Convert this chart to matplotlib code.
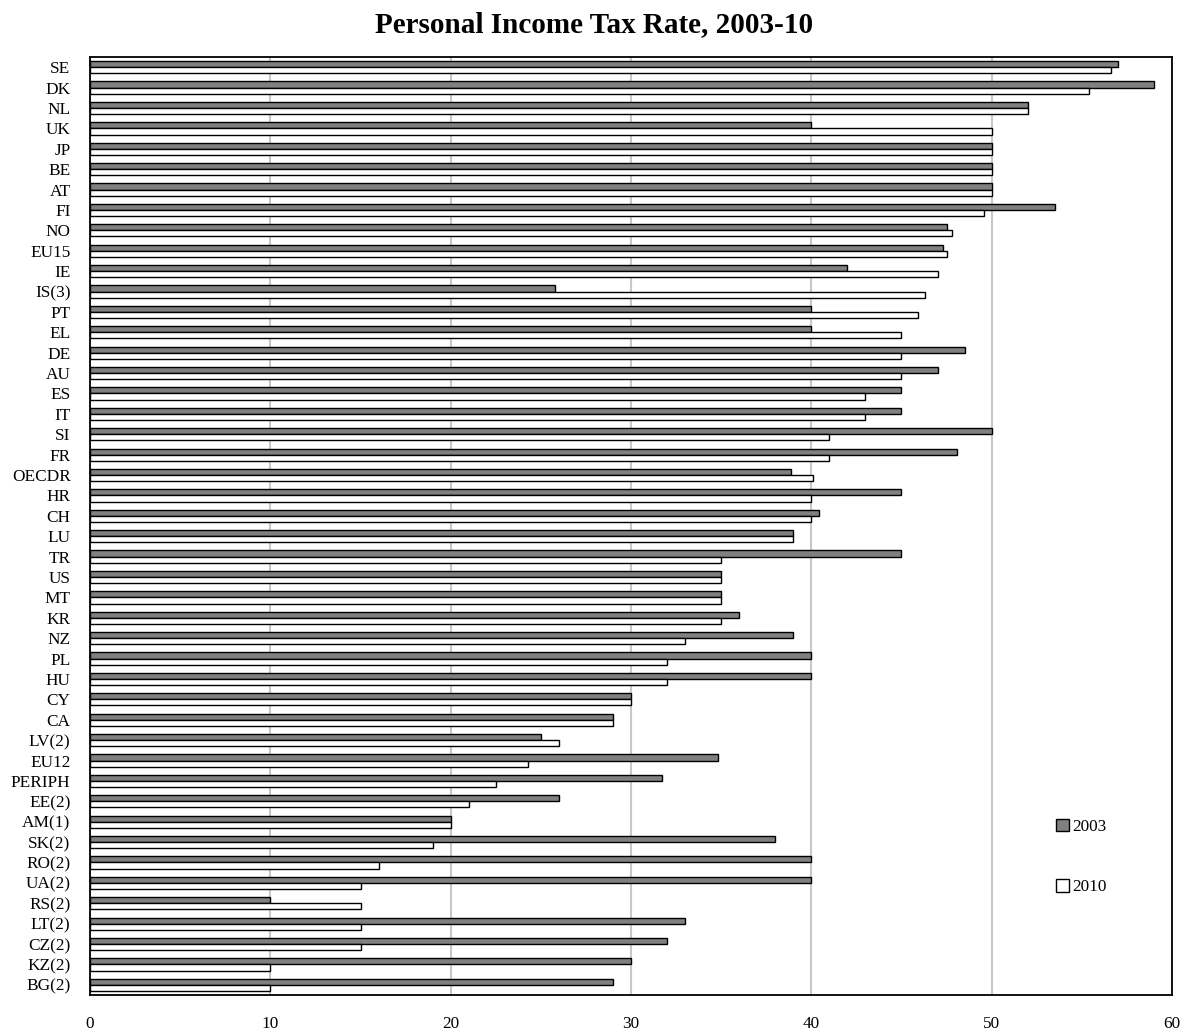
import matplotlib
matplotlib.use("Agg")
import matplotlib.pyplot as plt
import numpy as np
from matplotlib.patches import Patch

plt.rcParams['font.family'] = ['Liberation Serif', 'DejaVu Serif']

countries = ["SE", "DK", "NL", "UK", "JP", "BE", "AT", "FI", "NO", "EU15",
             "IE", "IS(3)", "PT", "EL", "DE", "AU", "ES", "IT", "SI", "FR",
             "OECDR", "HR", "CH", "LU", "TR", "US", "MT", "KR", "NZ", "PL",
             "HU", "CY", "CA", "LV(2)", "EU12", "PERIPH", "EE(2)", "AM(1)",
             "SK(2)", "RO(2)", "UA(2)", "RS(2)", "LT(2)", "CZ(2)", "KZ(2)", "BG(2)"]

rate_2003 = [57.0, 59.0, 52.0, 40.0, 50.0, 50.0, 50.0, 53.5, 47.5, 47.3,
             42.0, 25.8, 40.0, 40.0, 48.5, 47.0, 45.0, 45.0, 50.0, 48.1,
             38.9, 45.0, 40.4, 39.0, 45.0, 35.0, 35.0, 36.0, 39.0, 40.0,
             40.0, 30.0, 29.0, 25.0, 34.8, 31.7, 26.0, 20.0,
             38.0, 40.0, 40.0, 10.0, 33.0, 32.0, 30.0, 29.0]

rate_2010 = [56.6, 55.4, 52.0, 50.0, 50.0, 50.0, 50.0, 49.6, 47.8, 47.5,
             47.0, 46.3, 45.9, 45.0, 45.0, 45.0, 43.0, 43.0, 41.0, 41.0,
             40.1, 40.0, 40.0, 39.0, 35.0, 35.0, 35.0, 35.0, 33.0, 32.0,
             32.0, 30.0, 29.0, 26.0, 24.3, 22.5, 21.0, 20.0,
             19.0, 16.0, 15.0, 15.0, 15.0, 15.0, 10.0, 10.0]

fig = plt.figure(figsize=(11.89, 10.31), dpi=100)
ax = fig.add_axes([0.0757, 0.0349, 0.91, 0.9098])

y = np.arange(len(countries))
h = 0.3
ax.barh(y - h / 2, rate_2003, height=h, color="#808080", edgecolor="black",
        linewidth=1.0, label="2003", zorder=3)
ax.barh(y + h / 2, rate_2010, height=h, color="white", edgecolor="black",
        linewidth=1.0, label="2010", zorder=3)

ax.set_xlim(0, 60)
ax.set_ylim(len(countries) - 0.5, -0.5)
ax.set_xticks(np.arange(0, 61, 10))
ax.set_yticks(y)
ax.set_yticklabels(countries)
ax.tick_params(axis="both", length=0, labelsize=12.4)
ax.tick_params(axis="x", pad=15)
ax.tick_params(axis="y", pad=14)
ax.xaxis.grid(True, color="#c8c8c8", linewidth=1.5, zorder=0)
ax.set_axisbelow(True)
for s in ax.spines.values():
    s.set_linewidth(1.3)
    s.set_color("black")

handles = [Patch(facecolor="#808080", edgecolor="black", linewidth=1.0),
           Patch(facecolor="white", edgecolor="black", linewidth=1.0)]
ax.legend(handles, ["2003", "2010"], loc="center left",
          bbox_to_anchor=(0.885, 0.147), frameon=False, fontsize=12.4,
          handlelength=0.75, handleheight=0.75, handletextpad=0.2,
          labelspacing=2.55, borderpad=0)

fig.text(0.5, 0.976, "Personal Income Tax Rate, 2003-10", ha="center",
         va="center", fontsize=21, fontweight="bold")

fig.savefig("out.png", dpi=100)
